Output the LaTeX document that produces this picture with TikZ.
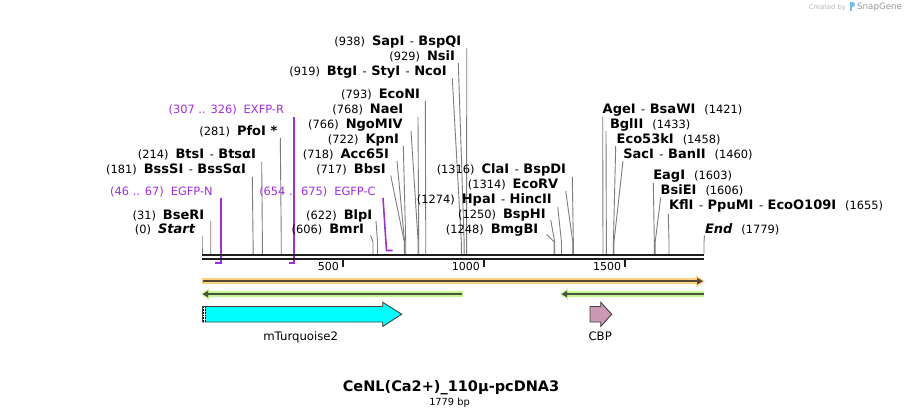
\documentclass[tikz,border=0pt]{standalone}
\usepackage{fontspec}
\setmainfont{DejaVu Sans}
\definecolor{primc}{RGB}{160,45,230}
\definecolor{sitec}{RGB}{125,125,125}
\definecolor{orL}{RGB}{255,207,130}
\definecolor{orD}{RGB}{85,72,52}
\definecolor{grL}{RGB}{196,246,146}
\definecolor{grD}{RGB}{72,84,60}
\definecolor{cyanF}{RGB}{0,255,255}
\definecolor{pinkF}{RGB}{204,153,180}
\definecolor{outl}{RGB}{64,64,64}
\definecolor{logoc}{RGB}{110,185,240}
\newcommand\numtxt[1]{{\fontsize{11.4}{13}\selectfont #1}}
\newcommand\enz[1]{{\fontsize{13}{15}\selectfont\bfseries #1}}
\newcommand\enzsep{\numtxt{\hspace{5.5pt}-\hspace{4.5pt}}}
\newcommand\lgap{\hspace{7pt}}
\newcommand\rgap{\hspace{9pt}}
\begin{document}
\begin{tikzpicture}[x=1pt,y=-1pt,
  siteln/.style={draw=sitec, line width=0.9pt},
  primln/.style={draw=primc, line width=1.6pt},
  lbl/.style={inner sep=0pt, outer sep=0pt},
  primlbl/.style={inner sep=0pt, outer sep=0pt, text=primc, font=\fontsize{11.4}{13}\selectfont},
  bbone/.style={draw=black!88, line width=2.3pt},
  tickln/.style={draw=black!88, line width=2pt},
  ticklbl/.style={inner sep=0pt, anchor=base east, font=\fontsize{11}{13}\selectfont},
  featout/.style={draw=outl, line width=0.9pt},
  featlbl/.style={inner sep=0pt, anchor=base, font=\fontsize{11.7}{13}\selectfont}]
\useasboundingbox (0,0) rectangle (906,417);
\fill[white] (0,0) rectangle (906,417);

% ---------- site coordinates on the backbone ----------
\foreach \nm/\sx in {s0/202, s31/210.75, s181/253.07, s214/262.39, s281/281.29,
  s606/373.00, s622/377.52, s717/404.32, s718/404.61, s722/405.73, s766/418.15,
  s768/418.71, s793/425.77, s919/461.32, s929/464.15, s938/466.69,
  s1248/554.16, s1250/554.73, s1274/561.50, s1314/572.79, s1316/573.35,
  s1421/602.98, s1433/606.37, s1458/613.42, s1460/613.98, s1603/654.34,
  s1606/655.18, s1655/669.01, s1779/704.00}
  {\coordinate (\nm) at (\sx,254);}

% ---------- primers (under the backbone) ----------
\node[primlbl, anchor=base east] (pN) at (212.7,196) {(46 .. 67)\lgap EGFP-N};
\coordinate (pNt) at (220.9,198); \coordinate (pNb) at (220.9,263); \coordinate (pNe) at (215,263);
\draw[primln] (pNt) -- (pNb) -- (pNe);
\node[primlbl, anchor=base east] (pR) at (284,114) {(307 .. 326)\lgap EXFP-R};
\coordinate (pRt) at (293.8,117); \coordinate (pRb) at (293.8,263); \coordinate (pRe) at (288.6,263);
\draw[primln] (pRt) -- (pRb) -- (pRe);
\node[primlbl, anchor=base east] (pC) at (375.7,196) {(654 .. 675)\lgap EGFP-C};
\coordinate (pCt) at (383,198); \coordinate (pCb) at (386.5,250.5); \coordinate (pCe) at (392.5,250.5);
\draw[primln] (pCt) -- (pCb) -- (pCe);

% ---------- enzyme labels, left of their lines ----------
\foreach \nm/\lx/\ly/\tx/\ty/\s/\txt in {
  Start/195/234/202/236/s0/{\numtxt{(0)}\lgap\enz{\itshape Start}},
  BseRI/204.3/219/210.7/221/s31/{\numtxt{(31)}\lgap\enz{BseRI}},
  BssSI/246/174/252.3/177/s181/{\numtxt{(181)}\lgap\enz{BssSI}\enzsep\enz{BssSαI}},
  BtsI/256/159/261.7/162/s214/{\numtxt{(214)}\lgap\enz{BtsI}\enzsep\enz{BtsαI}},
  PfoI/277.3/136/280.3/138/s281/{\numtxt{(281)}\lgap\enz{PfoI *}},
  BmrI/364/234/370.7/235.5/s606/{\numtxt{(606)}\lgap\enz{BmrI}},
  BlpI/372.3/219/376/221/s622/{\numtxt{(622)}\lgap\enz{BlpI}},
  BbsI/385.7/174/390.7/175.5/s717/{\numtxt{(717)}\lgap\enz{BbsI}},
  Acc/389/159/397/161/s718/{\numtxt{(718)}\lgap\enz{Acc65I}},
  KpnI/399/144/403.3/146/s722/{\numtxt{(722)}\lgap\enz{KpnI}},
  Ngo/402.7/128.5/411/131/s766/{\numtxt{(766)}\lgap\enz{NgoMIV}},
  NaeI/403.3/113.5/418/117/s768/{\numtxt{(768)}\lgap\enz{NaeI}},
  EcoNI/420/99/425.3/101/s793/{\numtxt{(793)}\lgap\enz{EcoNI}},
  BtgI/446.7/76/452.3/78.5/s919/{\numtxt{(919)}\lgap\enz{BtgI}\enzsep\enz{StyI}\enzsep\enz{NcoI}},
  NsiI/455/61/458.3/63/s929/{\numtxt{(929)}\lgap\enz{NsiI}},
  SapI/461.3/46/466.7/48.5/s938/{\numtxt{(938)}\lgap\enz{SapI}\enzsep\enz{BspQI}},
  ClaI/566/174/572.3/177/s1316/{\numtxt{(1316)}\lgap\enz{ClaI}\enzsep\enz{BspDI}},
  EcoRV/558.3/189/565.7/191/s1314/{\numtxt{(1314)}\lgap\enz{EcoRV}},
  HpaI/551.7/203.5/557.7/207/s1274/{\numtxt{(1274)}\lgap\enz{HpaI}\enzsep\enz{HincII}},
  BspHI/545.7/218.5/550.7/220/s1250/{\numtxt{(1250)}\lgap\enz{BspHI}},
  BmgBI/538.3/233.5/546.7/234.5/s1248/{\numtxt{(1248)}\lgap\enz{BmgBI}}}
{
  \node[lbl, anchor=base east] (L\nm) at (\lx,\ly) {\txt};
  \coordinate (T\nm) at (\tx,\ty);
  \draw[siteln] (T\nm) -- ([yshift=12pt]\s) -- (\s);
}

% ---------- enzyme labels, right of their lines ----------
\foreach \nm/\lx/\ly/\tx/\ty/\s/\txt in {
  AgeI/602.7/114/602.7/117/s1421/{\enz{AgeI}\enzsep\enz{BsaWI}\rgap\numtxt{(1421)}},
  BglII/610/128.5/606/131/s1433/{\enz{BglII}\rgap\numtxt{(1433)}},
  Eco53/616.7/143.5/615.7/146/s1458/{\enz{Eco53kI}\rgap\numtxt{(1458)}},
  SacI/623.3/158.5/623/161/s1460/{\enz{SacI}\enzsep\enz{BanII}\rgap\numtxt{(1460)}},
  EagI/653.3/180/653.3/183/s1603/{\enz{EagI}\rgap\numtxt{(1603)}},
  BsiEI/660.7/195/660.7/197.5/s1606/{\enz{BsiEI}\rgap\numtxt{(1606)}},
  KflI/669/210/668.3/214/s1655/{\enz{KflI}\enzsep\enz{PpuMI}\enzsep\enz{EcoO109I}\rgap\numtxt{(1655)}},
  End/705/233.5/704.5/235.5/s1779/{\enz{\itshape End}\rgap\numtxt{(1779)}}}
{
  \node[lbl, anchor=base west] (R\nm) at (\lx,\ly) {\txt};
  \coordinate (T\nm) at (\tx,\ty);
  \draw[siteln] (T\nm) -- ([yshift=12pt]\s) -- (\s);
}

% ---------- backbone ----------
\coordinate (bbA) at (202,255.2); \coordinate (bbB) at (704,255.2);
\coordinate (bbC) at (202,259); \coordinate (bbD) at (704,259);
\draw[bbone] (bbA) -- (bbB);
\draw[bbone] (bbC) -- (bbD);

% ---------- ruler ticks ----------
\foreach \tx/\tl in {343.09/500, 484.18/1000, 625.27/1500}{
  \coordinate (tk\tl) at (\tx,260);
  \draw[tickln] (tk\tl) -- ++(0,6.5);
  \node[ticklbl] (tl\tl) at (\tx-4,270) {\tl};
}

% ---------- orange feature (forward, full length) ----------
\fill[orL] (202,278) rectangle (698,284.4);
\fill[orL] (696,275.2) -- (705,281.2) -- (696,287.2) -- cycle;
\draw[orD, line width=2pt] (203,281.2) -- (698,281.2);
\fill[orD] (697,277.8) -- (703,281.2) -- (697,284.6) -- cycle;

% ---------- green features (reverse) ----------
\fill[grL] (208,291) rectangle (463,297.2);
\fill[grL] (209,288.2) -- (201,294.1) -- (209,300) -- cycle;
\draw[grD, line width=2pt] (208,294.1) -- (461.5,294.1);
\fill[grD] (208,290.8) -- (202.5,294.1) -- (208,297.4) -- cycle;

\fill[grL] (567,291) rectangle (704,297.2);
\fill[grL] (568,288.2) -- (560,294.1) -- (568,300) -- cycle;
\draw[grD, line width=2pt] (567,294.1) -- (704,294.1);
\fill[grD] (567,290.8) -- (561.5,294.1) -- (567,297.4) -- cycle;

% ---------- mTurquoise2 ----------
\draw[featout, fill=cyanF] (202.5,306.5) -- (382.7,306.5) -- (382.7,302.3) -- (401.7,314.2)
  -- (382.7,326.5) -- (382.7,322) -- (202.5,322) -- cycle;
\fill[white] (203,307) rectangle (205.3,321.5);
\draw[black, line width=0.6pt, dash pattern=on 0.8pt off 0.8pt] (203.4,307) -- (203.4,321.5);
\draw[black, line width=0.6pt, dash pattern=on 0.8pt off 0.8pt] (205.2,307) -- (205.2,321.5);
\node[featlbl] (fT) at (300.7,340) {mTurquoise2};

% ---------- CBP ----------
\draw[featout, fill=pinkF] (590,306.5) -- (600.7,306.5) -- (600.7,302.3) -- (611.7,314.2)
  -- (600.7,326.5) -- (600.7,322) -- (590,322) -- cycle;
\node[featlbl] (fC) at (600.2,340) {CBP};

% ---------- title ----------
\node[inner sep=0pt, anchor=base, font=\fontsize{14.5}{17}\selectfont\bfseries] (title) at (451,391) {CeNL(Ca2+)\_110μ-pcDNA3};
\node[inner sep=0pt, anchor=base, font=\fontsize{9.8}{11}\selectfont] (len) at (449.5,405) {1779 bp};

% ---------- watermark ----------
\node[inner sep=0pt, anchor=base east, text=black!28, font=\fontsize{6.7}{8}\selectfont] (wm1) at (846,10) {Created by};
\fill[logoc] (849.5,2.5) rectangle (852,11);
\fill[logoc] (852,2.5) .. controls (856,2.5) and (856,7) .. (852,7) -- cycle;
\node[inner sep=0pt, anchor=base west, text=black!40, font=\fontsize{8.7}{10}\selectfont] (wm2) at (857,10) {SnapGene};
\end{tikzpicture}
\end{document}
